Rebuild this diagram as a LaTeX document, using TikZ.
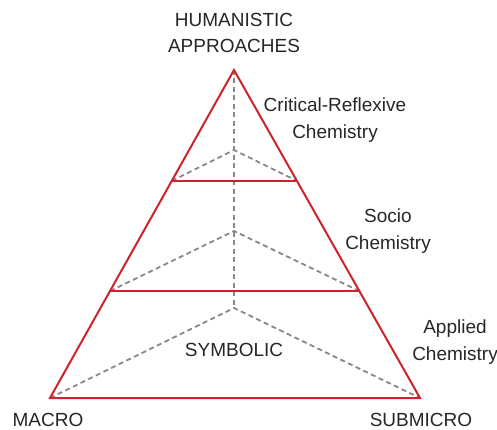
\documentclass[tikz,border=0pt]{standalone}
\usepackage{fontspec}
\setmainfont{Liberation Sans}
\usetikzlibrary{positioning,calc}
\definecolor{edge}{RGB}{205,35,45}
\definecolor{back}{RGB}{135,135,135}

\begin{document}
\begin{tikzpicture}[x=1pt, y=-1pt,
    every node/.style={font=\fontsize{19}{26.5}\selectfont, align=center, text=black!85},
    side/.style={draw=edge, line width=2pt, line join=miter},
    hidden/.style={draw=back, line width=1.8pt, dash pattern=on 5pt off 3.5pt}]

      \useasboundingbox (0,0) rectangle (497,430);

      % corners of the pyramid
      \coordinate (top) at (234,70);
      \coordinate (left) at (50,398);
      \coordinate (right) at (420,398);
      \coordinate (upL) at ($(top)!0.338!(left)$);
      \coordinate (upR) at ($(top)!0.338!(right)$);
      \coordinate (midL) at ($(top)!0.674!(left)$);
      \coordinate (midR) at ($(top)!0.674!(right)$);

      % back edges
      \coordinate (peak1) at (234,150);
      \coordinate (peak2) at (234,231);
      \coordinate (peak3) at (234,308);
      \draw [hidden] (top) -- (peak3);
      \draw [hidden] (upL) -- (peak1) -- (upR);
      \draw [hidden] (midL) -- (peak2) -- (midR);
      \draw [hidden] (left) -- (peak3) -- (right);

      % front
      \draw [side] (top) -- (left) -- (right) -- cycle;
      \draw [side] (upL) -- (upR);
      \draw [side] (midL) -- (midR);

      \node [] at (234, 33) (human) {HUMANISTIC\\APPROACHES};
      \node [] at (335, 120) (critical) {Critical-Reflexive\\Chemistry};
      \node [] at (388, 231) (socio) {Socio\\Chemistry};
      \node [] at (455, 342) (applied) {Applied\\Chemistry};
      \node [] at (234, 350) (symbolic) {SYMBOLIC};
      \node [] at (48, 420) (macro) {MACRO};
      \node [] at (421, 420) (submicro) {SUBMICRO};
    \end{tikzpicture}
\end{document}
